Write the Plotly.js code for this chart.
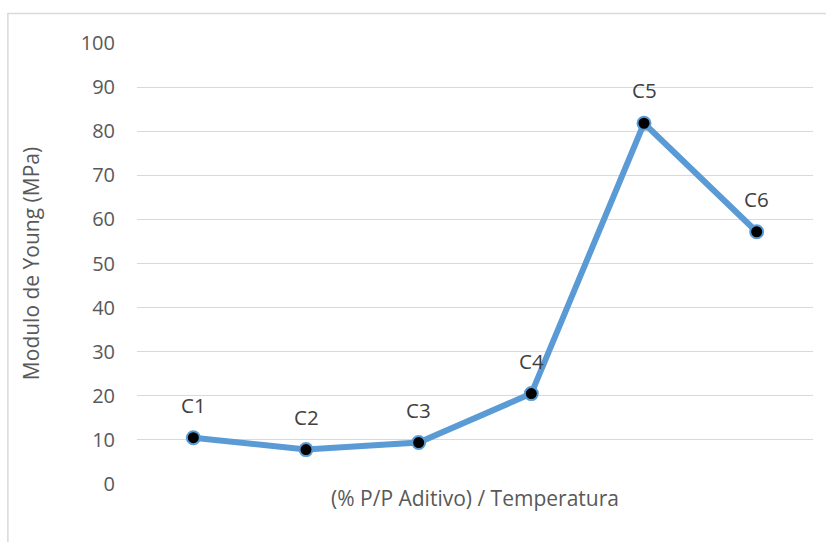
<!DOCTYPE html>
<html>
<head>
<meta charset="utf-8">
<script src="https://cdn.plot.ly/plotly-3.0.1.min.js"></script>
<style>html,body{margin:0;padding:0;background:#fff;}#chart{width:826px;height:542px;}</style>
</head>
<body>
<div id="chart"></div>
<script>
const categories = ["C1", "C2", "C3", "C4", "C5", "C6"];
const youngModulus = [10.5, 7.8, 9.4, 20.5, 81.8, 57.2];
const yTicks = [0, 10, 20, 30, 40, 50, 60, 70, 80, 90, 100];

const font = "'Open Sans', 'Liberation Sans', sans-serif";
const grey = "#595959";

const trace = {
  x: categories,
  y: youngModulus,
  type: "scatter",
  mode: "lines+markers",
  line: {color: "#5B9BD5", width: 6},
  marker: {color: "#000000", size: 13, line: {color: "#5B9BD5", width: 2}},
  hoverinfo: "x+y"
};

const annotations = categories.map((c, i) => ({
  x: c, y: youngModulus[i], xref: "x", yref: "y",
  text: c, showarrow: false, yshift: 33,
  font: {family: font, size: 20.5, color: "#404040"}
}));

const layout = {
  width: 826, height: 542,
  margin: {l: 137, r: 13, t: 43, b: 58},
  paper_bgcolor: "#ffffff",
  plot_bgcolor: "#ffffff",
  showlegend: false,
  font: {family: font, size: 20, color: grey},
  xaxis: {
    type: "category",
    showticklabels: false,
    ticks: "",
    showgrid: false,
    zeroline: false,
    showline: false,
    range: [-0.5, 5.5],
    title: {text: "(% P/P Aditivo) / Temperatura", standoff: 7, font: {family: font, size: 21, color: grey}},
    automargin: false
  },
  yaxis: {
    range: [0, 100],
    tickvals: yTicks,
    ticktext: yTicks.map(String),
    showgrid: true,
    gridcolor: "#d9d9d9",
    gridwidth: 1,
    zeroline: false,
    showline: false,
    ticks: "",
    ticklabelstandoff: 21,
    tickfont: {family: font, size: 20, color: grey},
    title: {text: "Modulo de Young (MPa)", standoff: 35, font: {family: font, size: 21, color: grey}},
    automargin: false
  },
  annotations: annotations,
  shapes: [{
    type: "path", xref: "paper", yref: "paper",
    path: "M -0.191 -0.2 L -0.191 1.067 L 1.2 1.067",
    line: {color: "#d9d9d9", width: 1.5}
  }]
};

Plotly.newPlot("chart", [trace], layout, {displayModeBar: false, staticPlot: true});
</script>
</body>
</html>
